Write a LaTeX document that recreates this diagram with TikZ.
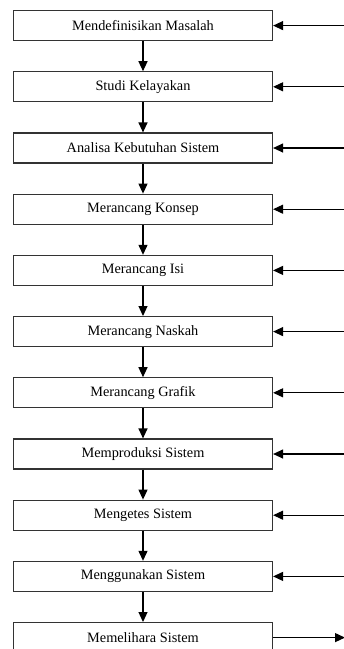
\documentclass[tikz,border=0pt]{standalone}
\usepackage{fontspec}
\setmainfont{Liberation Serif}
\usetikzlibrary{arrows.meta, positioning, calc}

\begin{document}
\begin{tikzpicture}[
    x=1pt, y=1pt,
    node distance=30pt,
    stage/.style={rectangle, draw=black!80, line width=1.2pt, fill=white,
                  minimum height=30pt, minimum width=259pt, align=center,
                  inner sep=0pt, font=\fontsize{14.3}{17}\selectfont},
    arrow/.style={-{Triangle[length=10pt, width=9pt]}, line width=1.2pt, draw=black},
]

% Page frame (reference margins)
\useasboundingbox (0,0) rectangle (344,-649);

% --- Stages ---
\node[stage] (m1) at (143,-25.6) {Mendefinisikan Masalah};
\node[stage, below=of m1] (m2) {Studi Kelayakan};
\node[stage, below=of m2] (m3) {Analisa Kebutuhan Sistem};
\node[stage, below=of m3] (m4) {Merancang Konsep};
\node[stage, below=of m4] (m5) {Merancang Isi};
\node[stage, below=of m5] (m6) {Merancang Naskah};
\node[stage, below=of m6] (m7) {Merancang Grafik};
\node[stage, below=of m7] (m8) {Memproduksi Sistem};
\node[stage, below=of m8] (m9) {Mengetes Sistem};
\node[stage, below=of m9] (m10) {Menggunakan Sistem};
\node[stage, below=of m10] (m11) {Memelihara Sistem};

% Right edge for the feedback lines
\coordinate (edge) at (345,0);

% --- Arrows ---
% Stage to next stage
\foreach \i [evaluate=\i as \j using int(\i+1)] in {1,...,10}
    \draw[arrow] (m\i.south) -- (m\j.north);

% Feedback into each stage
\foreach \i in {1,...,10} {
    \coordinate (in\i) at (m\i.east -| edge);
    \draw[arrow] (in\i) -- (m\i.east);
}

% Last stage out
\coordinate (out) at (m11.east -| edge);
\draw[arrow] (m11.east) -- (out);

\end{tikzpicture}
\end{document}
